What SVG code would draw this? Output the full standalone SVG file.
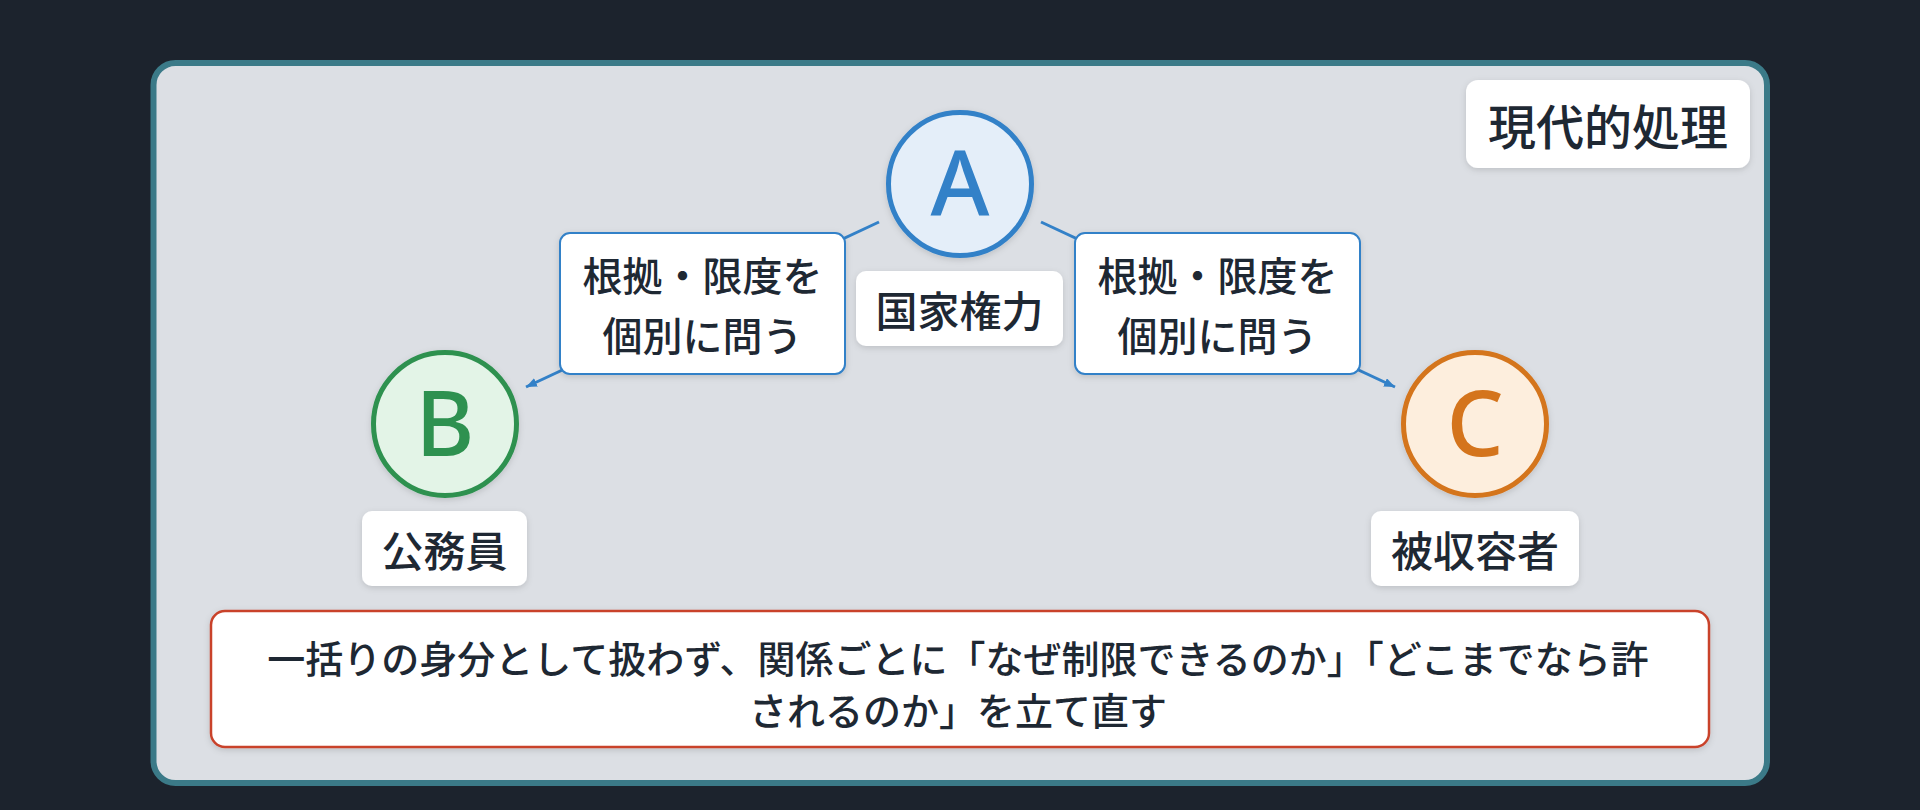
<svg xmlns="http://www.w3.org/2000/svg" width="1920" height="810" viewBox="0 0 1920 810">
<defs>
<style>
.t{font-family:"Noto Sans CJK JP","Noto Sans",sans-serif;fill:#1e2833;text-anchor:middle;dominant-baseline:central;font-weight:500}
.box{fill:#ffffff}
.edge{fill:#ffffff;stroke:#3381c8;stroke-width:2}
.conn{stroke:#3381c8;stroke-width:3;fill:none;marker-end:url(#ah)}
.letter{font-family:"Noto Sans","Noto Sans CJK JP",sans-serif;text-anchor:middle;font-weight:500;font-size:90px}
</style>
<filter id="sh" x="-20%" y="-20%" width="140%" height="150%">
<feDropShadow dx="0" dy="2" stdDeviation="3" flood-color="#000000" flood-opacity="0.14"/>
</filter>
<marker id="ah" markerUnits="userSpaceOnUse" markerWidth="12" markerHeight="10" refX="11" refY="4.5" orient="auto">
<path d="M0,0 L11,4.5 L0,9 z" fill="#3381c8"/>
</marker>
</defs>
<rect width="1920" height="810" fill="#1c232d"/>
<rect id="panel" x="153.5" y="63" width="1613.5" height="720" rx="22" fill="#dcdfe4" stroke="#3b7a88" stroke-width="6"/>

<g id="connectors">
<line class="conn" x1="879" y1="222" x2="526" y2="387"/>
<line class="conn" x1="1041" y1="222" x2="1395" y2="387"/>
</g>

<g id="title">
<rect class="box" x="1466" y="80" width="284" height="88" rx="12" filter="url(#sh)"/>
<text class="t" x="1608" y="124" font-size="48" font-weight="600">現代的処理</text>
</g>

<g id="edge-label-left">
<rect class="edge" x="560" y="233" width="285" height="141" rx="10" filter="url(#sh)"/>
<text class="t" x="702.5" y="274" font-size="40">根拠・限度を</text>
<text class="t" x="702.5" y="334" font-size="40">個別に問う</text>
</g>

<g id="edge-label-right">
<rect class="edge" x="1075" y="233" width="285" height="141" rx="10" filter="url(#sh)"/>
<text class="t" x="1217.5" y="274" font-size="40">根拠・限度を</text>
<text class="t" x="1217.5" y="334" font-size="40">個別に問う</text>
</g>

<g id="node-A">
<circle cx="960" cy="184" r="71.5" fill="#e4eef9" stroke="#3381c8" stroke-width="5" filter="url(#sh)"/>
<text class="letter" x="960" y="216" fill="#3381c8">A</text>
<rect class="box" x="856" y="271" width="207" height="75" rx="10" filter="url(#sh)"/>
<text class="t" x="959.5" y="308.5" font-size="42">国家権力</text>
</g>

<g id="node-B">
<circle cx="445" cy="424" r="71.5" fill="#e3f4e7" stroke="#2e9150" stroke-width="5" filter="url(#sh)"/>
<text class="letter" x="445" y="456" fill="#2e9150">B</text>
<rect class="box" x="362" y="511" width="165" height="75" rx="10" filter="url(#sh)"/>
<text class="t" x="444.5" y="548.5" font-size="42">公務員</text>
</g>

<g id="node-C">
<circle cx="1475" cy="424" r="71.5" fill="#fdeedd" stroke="#d4741c" stroke-width="5" filter="url(#sh)"/>
<text class="letter" x="1475" y="456" fill="#d4741c">C</text>
<rect class="box" x="1371" y="511" width="208" height="75" rx="10" filter="url(#sh)"/>
<text class="t" x="1475" y="548.5" font-size="42">被収容者</text>
</g>

<g id="summary">
<rect x="211" y="611" width="1498" height="136" rx="14" fill="#ffffff" stroke="#c9432c" stroke-width="2.5" filter="url(#sh)"/>
<text class="t" x="958" y="656" font-size="38">一括りの身分として扱わず、関係ごとに「なぜ制限できるのか」「どこまでなら許</text>
<text class="t" x="958" y="708" font-size="38">されるのか」を立て直す</text>
</g>
</svg>
